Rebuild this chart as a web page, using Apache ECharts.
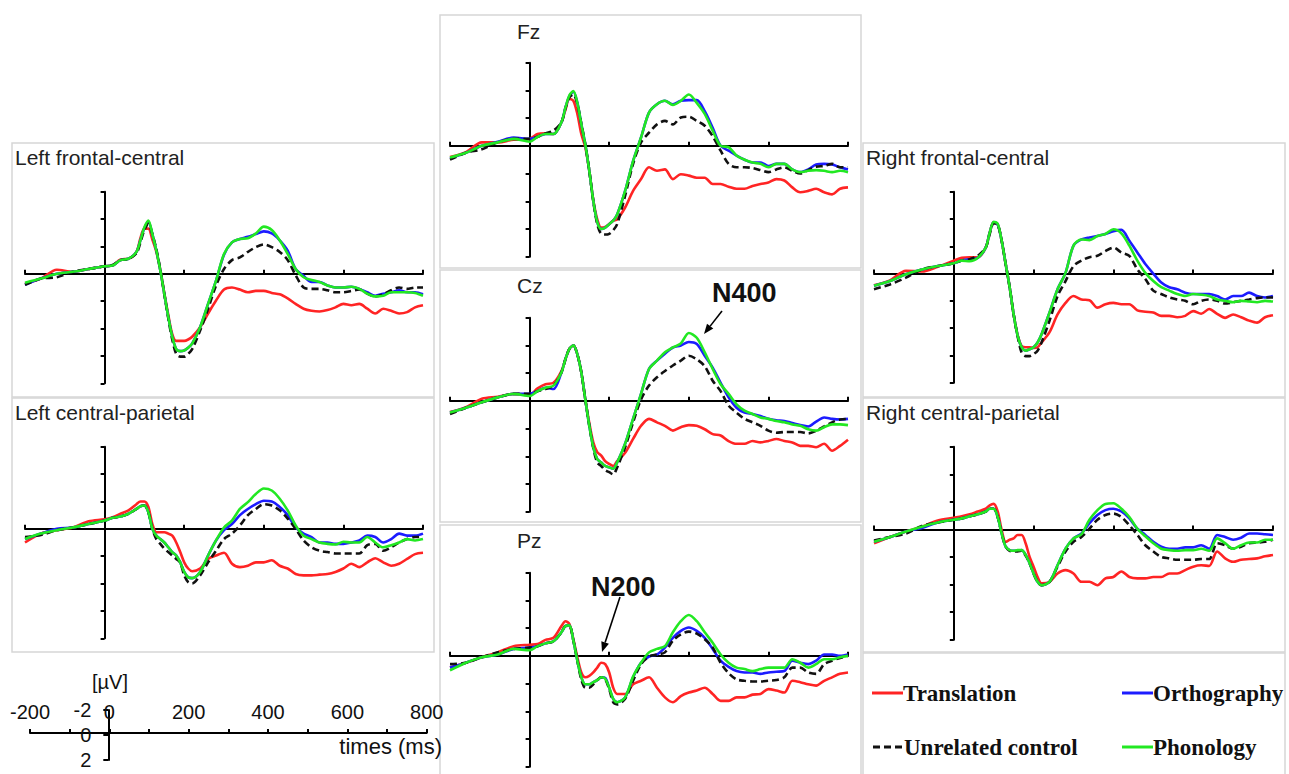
<!DOCTYPE html>
<html>
<head>
<meta charset="utf-8">
<title>ERP waveforms</title>
<script src="https://cdn.jsdelivr.net/npm/echarts@6.0.0/dist/echarts.min.js"></script>
<style>
html, body { margin: 0; padding: 0; background: #fff; }
#erp-chart { width: 1289px; height: 774px; }
</style>
</head>
<body>
<div id="erp-chart"></div>
<script>
// sample times in ms, shared by every panel (denser around P1/N1)
var times = [-200, -160, -120, -80, -40, 0, 20, 40, 60, 80,
  90, 100, 110, 120, 130, 140, 150, 160, 170, 180, 190, 200, 210, 220,
  240, 260, 280, 300, 320, 340, 360, 380, 400, 420, 440, 460, 480, 500, 520,
  540, 560, 580, 600, 620, 640, 660, 680, 700, 720, 740, 760, 780, 800];

// Left frontal-central (uV)
var lfcTranslation = [0.7, 0.35, -0.3, -0.15, -0.35, -0.55, -0.6, -1.05, -1.1, -1.6,
  -2.6, -3.3, -3.3, -2.5, -1.6, -0.3, 1.4, 3.0, 4.4, 4.9, 4.9, 4.9, 4.8, 4.6,
  3.9, 2.9, 1.95, 1.15, 1.0, 1.15, 1.35, 1.25, 1.25, 1.4, 1.5, 1.8, 2.2, 2.55, 2.7,
  2.75, 2.65, 2.45, 2.2, 2.3, 2.2, 2.55, 2.9, 2.55, 2.7, 2.9, 2.8, 2.45, 2.3];
var lfcOrthography = [0.8, 0.35, 0.0, -0.15, -0.35, -0.55, -0.6, -1.0, -1.1, -1.6,
  -2.45, -3.35, -3.8, -2.9, -1.7, -0.25, 1.45, 3.15, 4.6, 5.5, 5.65, 5.6, 5.4, 5.1,
  3.9, 2.2, 0.5, -1.4, -2.3, -2.55, -2.7, -2.9, -3.1, -2.95, -2.45, -1.7, -0.35, 0.15, 0.6,
  0.6, 0.85, 1.0, 1.0, 0.95, 1.1, 1.35, 1.6, 1.45, 1.35, 1.2, 1.35, 1.35, 1.5];
var lfcUnrelated = [0.8, 0.35, 0.25, -0.15, -0.35, -0.55, -0.65, -1.0, -1.1, -1.5,
  -2.3, -3.2, -3.65, -2.9, -1.8, -0.3, 1.5, 3.25, 4.8, 5.85, 6.05, 6.05, 5.85, 5.5,
  4.15, 2.55, 0.85, -0.35, -1.0, -1.2, -1.6, -1.95, -2.15, -1.95, -1.6, -1.0, 0.1, 1.0, 1.1,
  1.1, 1.2, 1.35, 1.35, 1.25, 1.15, 1.45, 1.65, 1.5, 1.2, 1.0, 1.1, 1.0, 1.0];
var lfcPhonology = [0.65, 0.35, 0.0, -0.15, -0.35, -0.55, -0.6, -1.0, -1.1, -1.6,
  -2.45, -3.4, -3.9, -2.9, -1.7, -0.25, 1.45, 3.15, 4.6, 5.5, 5.65, 5.6, 5.4, 5.1,
  3.9, 2.2, 0.5, -1.45, -2.3, -2.55, -2.6, -2.95, -3.45, -3.2, -2.45, -1.45, -0.35, 0.25, 0.45,
  0.6, 0.85, 1.0, 1.0, 0.95, 1.1, 1.45, 1.65, 1.6, 1.35, 1.35, 1.35, 1.4, 1.6];

// Left central-parietal
var lcpTranslation = [1.0, 0.35, 0.1, -0.1, -0.55, -0.7, -0.85, -1.1, -1.35, -1.8,
  -2.0, -2.0, -1.6, -0.35, 0.25, 0.25, 0.25, 0.35, 0.5, 1.0, 1.7, 2.45, 2.9, 3.1,
  2.9, 2.2, 1.95, 1.75, 2.55, 2.8, 2.7, 2.45, 2.45, 2.3, 2.7, 2.9, 3.3, 3.4, 3.4,
  3.35, 3.3, 3.15, 2.9, 2.55, 2.8, 2.45, 2.15, 2.45, 2.7, 2.55, 2.2, 1.85, 1.75];
var lcpOrthography = [0.75, 0.35, 0.0, -0.1, -0.35, -0.6, -0.8, -0.9, -1.1, -1.45,
  -1.65, -1.7, -1.2, 0.0, 0.5, 0.75, 1.0, 1.35, 1.7, 1.95, 2.45, 3.15, 3.55, 3.6,
  3.15, 1.95, 0.85, 0.1, -0.35, -1.0, -1.45, -1.8, -2.05, -2.0, -1.6, -1.0, -0.1, 0.35, 0.6,
  1.0, 1.0, 1.1, 1.1, 1.0, 0.85, 0.5, 0.6, 1.0, 0.75, 0.35, 0.5, 0.5, 0.35];
var lcpUnrelated = [0.6, 0.45, 0.1, -0.1, -0.35, -0.6, -0.8, -0.9, -1.1, -1.45,
  -1.65, -1.7, -1.2, 0.0, 0.75, 1.1, 1.45, 1.7, 1.95, 2.2, 2.45, 3.4, 3.9, 4.0,
  3.4, 2.45, 1.6, 0.75, 0.35, -0.25, -1.0, -1.45, -1.8, -1.7, -1.35, -0.75, 0.0, 0.85, 1.35,
  1.6, 1.7, 1.8, 1.8, 1.8, 1.8, 1.2, 1.1, 1.6, 1.35, 1.0, 0.75, 0.6, 0.6];
var lcpPhonology = [0.75, 0.35, 0.1, -0.1, -0.35, -0.6, -0.8, -0.9, -1.1, -1.45,
  -1.65, -1.7, -1.2, 0.0, 0.5, 0.75, 1.0, 1.35, 1.7, 1.95, 2.45, 3.15, 3.55, 3.6,
  3.15, 1.95, 0.85, -0.1, -0.6, -1.45, -1.95, -2.55, -2.95, -2.8, -2.2, -1.35, -0.25, 0.5, 0.75,
  1.0, 1.1, 1.15, 0.95, 1.0, 1.0, 0.6, 1.0, 1.35, 1.2, 1.0, 0.75, 0.85, 0.75];

// Fz
var fzTranslation = [0.8, 0.45, -0.25, -0.25, -0.45, -0.5, -0.85, -0.9, -0.85, -1.7,
  -2.6, -3.4, -3.25, -2.3, -0.85, 0.1, 1.8, 3.9, 5.3, 5.9, 5.85, 5.65, 5.4, 5.3,
  4.45, 3.25, 2.4, 1.55, 1.8, 1.7, 2.4, 2.05, 2.15, 2.3, 2.3, 2.75, 2.75, 2.95, 3.1,
  3.1, 2.9, 2.75, 2.65, 2.4, 2.5, 3.0, 3.35, 3.25, 3.1, 3.35, 3.5, 3.1, 3.0];
var fzOrthography = [0.9, 0.5, 0.0, -0.3, -0.6, -0.5, -0.65, -0.85, -0.85, -1.7,
  -2.75, -3.6, -3.9, -3.1, -1.55, -0.1, 1.8, 3.95, 5.5, 6.0, 5.9, 5.65, 5.4, 4.95,
  3.25, 1.1, -0.6, -2.4, -3.0, -3.25, -3.0, -3.25, -3.3, -3.3, -2.5, -1.3, 0.0, 0.35, 0.7,
  1.0, 1.2, 1.2, 1.45, 1.3, 1.3, 1.7, 1.9, 1.7, 1.35, 1.3, 1.35, 1.55, 1.7];
var fzUnrelated = [1.0, 0.5, 0.25, -0.25, -0.5, -0.5, -0.65, -0.9, -1.1, -1.7,
  -2.7, -3.5, -3.7, -3.0, -1.6, -0.1, 1.8, 4.0, 5.65, 6.35, 6.4, 6.35, 6.1, 5.65,
  3.6, 1.3, -0.25, -0.95, -1.55, -1.8, -1.55, -2.05, -2.1, -1.8, -1.45, -0.7, 0.35, 1.3, 1.55,
  1.55, 1.6, 1.75, 1.9, 1.7, 1.55, 1.8, 2.0, 1.75, 1.5, 1.45, 1.3, 1.55, 1.55];
var fzPhonology = [0.85, 0.5, 0.0, -0.25, -0.5, -0.3, -0.65, -0.85, -0.85, -1.7,
  -2.75, -3.65, -3.95, -3.1, -1.55, -0.1, 1.8, 3.95, 5.5, 6.0, 5.9, 5.65, 5.4, 4.95,
  3.25, 1.1, -0.6, -2.4, -3.0, -3.25, -2.95, -3.25, -3.7, -3.1, -2.3, -1.1, 0.0, 0.1, 0.7,
  1.0, 1.2, 1.3, 1.55, 1.3, 1.3, 1.7, 1.9, 1.8, 1.75, 1.8, 1.9, 1.8, 1.9];

// Cz
var czTranslation = [0.8, 0.45, -0.15, -0.3, -0.5, -0.45, -0.9, -1.2, -1.3, -2.15,
  -3.0, -3.75, -4.0, -3.35, -2.05, -0.1, 1.6, 3.0, 3.7, 3.95, 4.35, 4.55, 4.7, 4.35,
  3.75, 2.75, 1.8, 1.3, 1.55, 1.8, 2.15, 1.9, 1.75, 1.8, 2.05, 2.4, 2.5, 2.9, 3.1,
  3.1, 2.9, 3.0, 2.9, 2.75, 2.9, 3.0, 3.25, 3.25, 3.35, 3.1, 3.6, 3.25, 2.8];
var czOrthography = [0.85, 0.5, 0.1, -0.25, -0.5, -0.5, -0.7, -0.95, -0.85, -2.05,
  -3.0, -3.75, -4.0, -3.35, -2.05, -0.1, 1.8, 3.35, 4.2, 4.45, 4.7, 4.8, 4.9, 4.45,
  3.1, 1.3, -0.5, -2.3, -2.9, -3.4, -3.85, -4.0, -4.25, -4.1, -3.25, -2.4, -1.3, -0.25, 0.5,
  0.85, 0.95, 1.1, 1.3, 1.4, 1.45, 1.6, 1.75, 1.85, 1.5, 1.2, 1.3, 1.35, 1.3];
var czUnrelated = [0.95, 0.5, 0.1, -0.25, -0.5, -0.5, -0.7, -0.85, -1.1, -2.05,
  -3.0, -3.75, -4.0, -3.35, -2.05, -0.1, 1.8, 3.4, 4.45, 4.7, 5.0, 5.15, 5.3, 4.8,
  3.35, 1.55, -0.1, -1.1, -1.7, -2.15, -2.55, -2.9, -3.25, -3.0, -2.5, -1.45, -0.7, 0.35, 0.85,
  1.3, 1.55, 1.8, 2.15, 2.3, 2.25, 2.25, 2.25, 2.35, 2.15, 1.85, 1.55, 1.35, 1.3];
var czPhonology = [0.85, 0.5, 0.1, -0.25, -0.5, -0.35, -0.7, -0.95, -1.1, -2.05,
  -3.0, -3.75, -4.0, -3.35, -2.05, -0.1, 1.8, 3.35, 4.2, 4.45, 4.7, 4.8, 4.9, 4.45,
  3.1, 1.3, -0.5, -2.3, -2.9, -3.5, -3.85, -4.15, -4.9, -4.55, -3.5, -2.3, -1.2, -0.5, 0.25,
  0.7, 0.95, 1.2, 1.3, 1.45, 1.55, 1.7, 1.8, 2.05, 2.15, 1.9, 1.7, 1.7, 1.75];

// Pz
var pzTranslation = [0.85, 0.5, 0.1, -0.25, -0.7, -0.8, -0.85, -1.15, -1.3, -2.15,
  -2.5, -2.3, -1.2, 0.1, 1.2, 1.55, 1.45, 1.2, 0.85, 0.5, 0.6, 1.2, 2.3, 2.75,
  2.75, 2.05, 1.8, 1.55, 2.3, 3.0, 3.35, 2.9, 2.65, 2.5, 2.3, 2.75, 3.25, 3.25, 3.0,
  3.0, 2.8, 2.75, 2.4, 2.5, 2.65, 1.8, 1.9, 2.05, 2.15, 1.8, 1.55, 1.3, 1.2];
var pzOrthography = [0.85, 0.5, 0.1, -0.1, -0.5, -0.6, -0.7, -0.9, -1.05, -1.7,
  -2.15, -2.2, -1.1, 0.35, 1.55, 2.05, 2.05, 1.9, 1.75, 1.55, 1.6, 2.3, 3.1, 3.35,
  3.0, 1.55, 0.5, 0.05, -0.1, -0.6, -1.3, -1.8, -2.05, -1.8, -1.3, -0.5, 0.35, 0.8, 1.1,
  1.2, 1.2, 1.3, 1.2, 1.15, 1.1, 0.35, 0.5, 0.6, 0.35, -0.1, -0.1, 0.0, -0.1];
var pzUnrelated = [0.6, 0.5, 0.1, -0.25, -0.5, -0.6, -0.7, -0.9, -1.05, -1.7,
  -2.15, -2.15, -1.1, 0.35, 1.7, 2.3, 2.3, 2.05, 1.75, 1.55, 1.7, 2.4, 3.35, 3.5,
  3.1, 1.8, 0.6, 0.05, -0.1, -0.25, -1.1, -1.55, -1.75, -1.6, -1.2, -0.6, 0.5, 1.25, 1.7,
  1.8, 1.85, 1.85, 1.8, 1.75, 1.55, 0.85, 0.85, 1.2, 1.3, 0.6, 0.35, 0.15, 0.0];
var pzPhonology = [1.05, 0.5, 0.1, -0.1, -0.5, -0.4, -0.7, -0.9, -1.05, -1.7,
  -2.15, -2.2, -1.1, 0.35, 1.55, 2.05, 2.05, 1.9, 1.75, 1.55, 1.65, 2.3, 3.1, 3.35,
  3.0, 1.5, 0.5, -0.25, -0.5, -0.7, -1.7, -2.5, -2.95, -2.5, -1.7, -0.95, -0.1, 0.5, 0.85,
  0.95, 1.1, 0.95, 0.85, 0.85, 0.85, 0.25, 0.5, 0.85, 0.6, 0.25, 0.25, 0.1, 0.0];

// Right frontal-central
var rfcTranslation = [0.85, 0.5, -0.2, -0.15, -0.5, -0.95, -1.15, -1.2, -1.2, -1.9,
  -3.0, -3.75, -3.6, -2.4, -0.7, 1.0, 3.0, 4.5, 5.3, 5.4, 5.4, 5.45, 5.4, 5.05,
  4.3, 3.0, 2.15, 1.65, 1.9, 1.95, 2.5, 2.25, 2.15, 2.25, 2.25, 2.7, 2.8, 2.85, 3.1,
  3.1, 3.2, 3.1, 2.75, 2.95, 2.6, 2.95, 3.25, 3.0, 3.2, 3.45, 3.6, 3.2, 3.05];
var rfcOrthography = [0.9, 0.55, 0.05, -0.3, -0.55, -0.75, -0.95, -1.05, -1.15, -1.9,
  -3.0, -3.75, -3.6, -2.4, -0.7, 1.0, 3.0, 4.55, 5.4, 5.65, 5.55, 5.4, 5.05, 4.45,
  2.85, 1.15, -0.05, -2.05, -2.5, -2.65, -2.75, -2.9, -3.1, -3.2, -2.4, -1.55, -0.7, 0.0, 0.65,
  1.0, 1.15, 1.4, 1.5, 1.5, 1.5, 1.65, 1.9, 1.65, 1.65, 1.4, 1.65, 1.75, 1.65];
var rfcUnrelated = [1.15, 0.8, 0.3, -0.3, -0.55, -0.75, -0.95, -1.05, -1.3, -1.9,
  -2.9, -3.7, -3.6, -2.4, -0.7, 1.0, 3.0, 4.6, 5.8, 6.05, 6.05, 5.9, 5.65, 5.05,
  3.45, 1.65, 0.55, -0.55, -0.95, -1.2, -1.3, -1.65, -1.9, -1.55, -1.3, -0.3, 0.4, 1.25, 1.5,
  1.75, 1.9, 2.0, 2.25, 2.0, 1.9, 2.0, 2.2, 2.1, 2.0, 1.9, 1.8, 1.75, 1.75];
var rfcPhonology = [0.9, 0.55, 0.05, -0.3, -0.55, -0.75, -0.95, -0.9, -1.15, -1.9,
  -3.0, -3.8, -3.65, -2.4, -0.7, 1.0, 3.0, 4.55, 5.4, 5.65, 5.55, 5.4, 5.05, 4.45,
  2.85, 1.15, -0.05, -2.05, -2.5, -2.45, -2.75, -2.9, -3.25, -2.95, -2.05, -0.95, -0.05, 0.55, 1.0,
  1.25, 1.5, 1.65, 1.5, 1.55, 1.65, 1.9, 2.0, 2.1, 2.0, 2.05, 2.1, 2.0, 2.05];

// Right central-parietal
var rcpTranslation = [1.0, 0.55, 0.15, -0.2, -0.65, -0.85, -0.95, -1.1, -1.3, -1.5,
  -1.75, -1.85, -1.3, 0.05, 0.9, 0.75, 0.65, 0.4, 0.4, 1.0, 2.0, 2.7, 3.45, 3.9,
  3.8, 3.2, 2.95, 3.2, 3.8, 3.8, 4.05, 3.55, 3.45, 3.05, 3.45, 3.55, 3.55, 3.45, 3.45,
  3.2, 3.2, 2.95, 2.7, 2.6, 2.65, 1.6, 2.1, 2.35, 2.2, 2.15, 2.1, 1.95, 1.85];
var rcpOrthography = [0.9, 0.55, 0.15, -0.1, -0.5, -0.7, -0.8, -0.95, -1.1, -1.3,
  -1.5, -1.5, -0.9, 0.3, 1.25, 1.5, 1.55, 1.55, 1.5, 1.85, 2.45, 3.2, 3.8, 4.05,
  3.8, 2.6, 1.4, 0.65, 0.3, -0.45, -1.05, -1.4, -1.5, -1.3, -0.8, -0.05, 0.4, 0.9, 1.25,
  1.4, 1.4, 1.3, 1.3, 1.15, 1.4, 0.4, 0.55, 0.75, 0.6, 0.3, 0.3, 0.35, 0.4];
var rcpUnrelated = [0.8, 0.55, 0.3, -0.25, -0.5, -0.7, -0.8, -0.95, -1.1, -1.3,
  -1.5, -1.5, -0.9, 0.3, 1.25, 1.55, 1.6, 1.6, 1.55, 1.9, 2.45, 3.2, 3.8, 4.05,
  3.8, 2.7, 1.6, 0.9, 0.55, -0.05, -0.7, -1.05, -1.15, -0.9, -0.3, 0.4, 1.15, 1.6, 2.0,
  2.1, 2.2, 2.2, 2.2, 2.15, 2.15, 1.0, 1.15, 1.4, 1.25, 1.0, 0.95, 0.9, 0.75];
var rcpPhonology = [0.9, 0.55, 0.15, -0.2, -0.5, -0.7, -0.8, -0.95, -1.1, -1.3,
  -1.5, -1.5, -0.9, 0.3, 1.25, 1.5, 1.55, 1.5, 1.5, 1.85, 2.45, 3.2, 3.8, 4.05,
  3.8, 2.6, 1.4, 0.65, 0.35, -0.7, -1.4, -1.85, -1.9, -1.5, -0.9, -0.05, 0.5, 1.0, 1.4,
  1.5, 1.55, 1.5, 1.5, 1.4, 1.55, 0.65, 1.0, 1.4, 1.15, 0.95, 0.95, 0.75, 0.75];

var conditions = ['Translation', 'Orthography', 'Unrelated control', 'Phonology'];
var condColors = ['#ff2424', '#1c1cff', '#111111', '#22e822'];

// layout: grid = [left, top, width, height], box = [x, y, w, h], title = [x, y]
var panels = [
  { name: 'Left frontal-central', grid: [25, 191.7, 398, 191.6], box: [12, 143, 422, 254], title: [15, 147],
    data: [lfcTranslation, lfcOrthography, lfcUnrelated, lfcPhonology] },
  { name: 'Left central-parietal', grid: [25, 446.7, 398, 191.6], box: [12, 398, 422, 254], title: [15, 402],
    data: [lcpTranslation, lcpOrthography, lcpUnrelated, lcpPhonology] },
  { name: 'Fz', grid: [450, 62.7, 398, 194], box: [440, 15, 421, 253], title: [517, 21],
    data: [fzTranslation, fzOrthography, fzUnrelated, fzPhonology] },
  { name: 'Cz', grid: [450, 317.7, 398, 194], box: [440, 270, 421, 252], title: [517, 275],
    data: [czTranslation, czOrthography, czUnrelated, czPhonology] },
  { name: 'Pz', grid: [450, 572.7, 398, 194], box: [440, 525, 421, 252], title: [517, 530],
    data: [pzTranslation, pzOrthography, pzUnrelated, pzPhonology] },
  { name: 'Right frontal-central', grid: [874, 191.7, 399, 191], box: [863, 143, 422, 254], title: [866, 147],
    data: [rfcTranslation, rfcOrthography, rfcUnrelated, rfcPhonology] },
  { name: 'Right central-parietal', grid: [874, 446.7, 399, 193], box: [863, 398, 422, 254], title: [866, 402],
    data: [rcpTranslation, rcpOrthography, rcpUnrelated, rcpPhonology] }
];

var SANS = '"Liberation Sans", Arial, sans-serif';
var SERIF = '"Liberation Serif", "Times New Roman", serif';
var axisStroke = { color: '#000', width: 2 };

var grids = [], xAxes = [], yAxes = [], series = [], titles = [], graphics = [];

panels.forEach(function (p, i) {
  grids.push({ left: p.grid[0], top: p.grid[1], width: p.grid[2], height: p.grid[3] });
  xAxes.push({
    gridIndex: i, type: 'value', min: -200, max: 800, interval: 200,
    axisLine: { onZero: true, lineStyle: axisStroke },
    axisTick: { inside: true, length: 4, lineStyle: axisStroke },
    axisLabel: { show: false }, splitLine: { show: false }
  });
  yAxes.push({
    gridIndex: i, type: 'value', min: -6, max: 8, interval: 2, inverse: true,
    axisLine: { onZero: true, lineStyle: axisStroke },
    axisTick: { length: 4, lineStyle: axisStroke },
    axisLabel: { show: false }, splitLine: { show: false }
  });
  p.data.forEach(function (vals, c) {
    series.push({
      name: conditions[c], type: 'line', xAxisIndex: i, yAxisIndex: i,
      symbol: 'none', smooth: 0.3,
      data: times.map(function (t, k) { return [t, vals[k]]; }),
      lineStyle: { color: condColors[c], width: 2.6, type: c === 2 ? [7, 4] : 'solid' },
      z: c === 2 ? 6 : 3 + c
    });
  });
  titles.push({
    text: p.name, left: p.title[0], top: p.title[1], padding: 0,
    textStyle: { fontSize: 21, fontWeight: 'normal', color: '#222', fontFamily: 'Liberation Sans' }
  });
  graphics.push({
    type: 'rect', z: 0,
    shape: { x: p.box[0], y: p.box[1], width: p.box[2], height: p.box[3] },
    style: { fill: 'none', stroke: '#d6d6d6', lineWidth: 1.5 }
  });
});

// component labels
titles.push({ text: 'N400', left: 712, top: 279, padding: 0,
  textStyle: { fontSize: 27, fontWeight: 'bold', color: '#111', fontFamily: 'Liberation Sans' } });
titles.push({ text: 'N200', left: 591, top: 573, padding: 0,
  textStyle: { fontSize: 27, fontWeight: 'bold', color: '#111', fontFamily: 'Liberation Sans' } });

// scale bar: time axis (grid 7) drawn along the top edge of its grid
grids.push({ left: 30, top: 733, width: 396.7, height: 27 });
xAxes.push({
  gridIndex: 7, type: 'value', min: -200, max: 800, interval: 100, position: 'top',
  axisLine: { onZero: false, lineStyle: axisStroke },
  axisTick: { length: 4, lineStyle: axisStroke },
  axisLabel: {
    margin: 11, fontSize: 20, color: '#111', fontFamily: 'Liberation Sans',
    formatter: function (v) { return v % 200 === 0 ? String(v) : ''; }
  },
  splitLine: { show: false }
});
yAxes.push({ gridIndex: 7, type: 'value', min: 0, max: 1, show: false });

// scale bar: amplitude axis (grid 8) at t = 0 of the time axis
grids.push({ left: 108.3, top: 710, width: 1, height: 50 });
xAxes.push({ gridIndex: 8, type: 'value', min: 0, max: 1, show: false });
yAxes.push({
  gridIndex: 8, type: 'value', min: -2, max: 2, interval: 2, inverse: true,
  axisLine: { onZero: false, lineStyle: axisStroke },
  axisTick: { length: 5, lineStyle: axisStroke },
  axisLabel: { margin: 17, fontSize: 20, color: '#111', fontFamily: 'Liberation Sans' },
  splitLine: { show: false }
});

graphics.push({ type: 'text', z: 100,
  style: { text: '[\u00b5V]', x: 110, y: 682, font: '20px ' + SANS, fill: '#111', textAlign: 'center', textVerticalAlign: 'middle' } });
graphics.push({ type: 'text', z: 100,
  style: { text: 'times (ms)', x: 442, y: 746, font: '22px ' + SANS, fill: '#111', textAlign: 'right', textVerticalAlign: 'middle' } });

// arrows for the N400 / N200 labels
function arrow(x1, y1, x2, y2) {
  var dx = x2 - x1, dy = y2 - y1, len = Math.sqrt(dx * dx + dy * dy);
  var ux = dx / len, uy = dy / len, hl = 10, hw = 4;
  var bx = x2 - ux * hl, by = y2 - uy * hl;
  return [
    { type: 'line', z: 100, shape: { x1: x1, y1: y1, x2: bx, y2: by }, style: { stroke: '#000', lineWidth: 1.6 } },
    { type: 'polygon', z: 100, shape: { points: [[x2, y2], [bx - uy * hw, by + ux * hw], [bx + uy * hw, by - ux * hw]] }, style: { fill: '#000' } }
  ];
}
graphics = graphics.concat(arrow(722, 311, 704, 334), arrow(620, 597, 602, 652));

// legend, laid out as in the figure
graphics.push({ type: 'rect', z: 0, shape: { x: 863, y: 653, width: 422, height: 130 },
  style: { fill: 'none', stroke: '#d6d6d6', lineWidth: 1.5 } });
var legendSpots = [[872, 693], [1122, 693], [873, 747], [1122, 747]];
conditions.forEach(function (name, c) {
  var x = legendSpots[c][0], y = legendSpots[c][1];
  graphics.push({ type: 'line', z: 100, shape: { x1: x, y1: y, x2: x + 31, y2: y },
    style: { stroke: condColors[c], lineWidth: 3, lineDash: c === 2 ? [7, 4] : null } });
  graphics.push({ type: 'text', z: 100,
    style: { text: name, x: x + 31, y: y, font: 'bold 23px ' + SERIF, fill: '#111', textAlign: 'left', textVerticalAlign: 'middle' } });
});

var chart = echarts.init(document.getElementById('erp-chart'), null, { renderer: 'svg' });
chart.setOption({
  animation: false,
  backgroundColor: '#fff',
  title: titles,
  grid: grids,
  xAxis: xAxes,
  yAxis: yAxes,
  series: series,
  graphic: { elements: graphics }
});
</script>
</body>
</html>
